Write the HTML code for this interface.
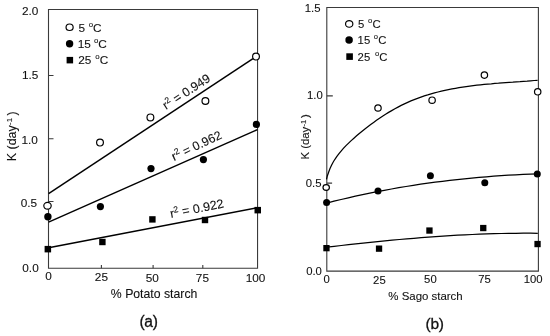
<!DOCTYPE html>
<html><head><meta charset="utf-8"><title>Figure</title>
<style>
html,body{margin:0;padding:0;background:#fff;}
svg{display:block;font-family:"Liberation Sans",Arial,sans-serif;fill:#111;}
text{stroke:#111;stroke-width:0.1px}
.ax{stroke:#3a3a3a;stroke-width:1.1;fill:none;shape-rendering:auto}
.ln{stroke:#000;stroke-width:1.45;fill:none;stroke-linejoin:round}
.lr{stroke-width:1.25}
.oc{stroke:#000;stroke-width:1.2;fill:#fff}
.fc{fill:#000}
.tl{font-size:11.8px}
.tr{font-size:11.3px}
</style></head><body>
<svg width="550" height="336" viewBox="0 0 550 336">
<rect width="550" height="336" fill="#fff"/>
<!-- LEFT PLOT -->
<g>
<path class="ax" d="M48.5 9.5H257.55V268.3H48.5Z"/>
<path class="ax" d="M48.5 75.5h5M48.5 138.8h5M48.5 201.5h5M101.4 268.3v-3.2M153.1 268.3v-3.2M202.8 268.3v-3.2"/>
<g class="tl">
<text x="22" y="14.8">2.0</text>
<text x="22" y="78.9">1.5</text>
<text x="21.5" y="143.6">1.0</text>
<text x="20.7" y="207.1">0.5</text>
<text x="22.3" y="272.1">0.0</text>
<text x="48.5" y="280.1" text-anchor="middle">0</text>
<text x="101.4" y="281" text-anchor="middle">25</text>
<text x="152.2" y="282.2" text-anchor="middle">50</text>
<text x="202.4" y="281.5" text-anchor="middle">75</text>
<text x="255.6" y="281.7" text-anchor="middle">100</text>
<text x="154.1" y="297.9" text-anchor="middle" font-size="12.25">% Potato starch</text>
<text transform="translate(16.4 161.3) rotate(-90) scale(1.04 1)" font-size="12">K (day</text>
<text transform="translate(11.6 125) rotate(-90)" font-size="8">-1</text>
<text transform="translate(16.3 115.6) rotate(-90)" font-size="12">)</text>
<text x="78.5" y="31.9">5 <tspan font-size="7.8" dy="-5.2" dx="0.4">o</tspan><tspan dy="5.2" dx="0">C</tspan></text>
<text x="77.8" y="47.9">15 <tspan font-size="7.8" dy="-5.2" dx="-0.3">o</tspan><tspan dy="5.2" dx="0">C</tspan></text>
<text x="78.2" y="63.8">25 <tspan font-size="7.8" dy="-5.2" dx="0.6">o</tspan><tspan dy="5.2" dx="0.1">C</tspan></text>
<text transform="translate(166.1 110) rotate(-33.2)" font-size="12.4">r<tspan font-size="8.6" dy="-4.6">2</tspan><tspan dy="4.6"> = 0.949</tspan></text>
<text transform="translate(174.1 160.9) rotate(-25.3)" font-size="12.3">r<tspan font-size="8.6" dy="-4.6">2</tspan><tspan dy="4.6"> = 0.962</tspan></text>
<text transform="translate(170.9 218) rotate(-11.2)" font-size="12.5">r<tspan font-size="8.6" dy="-4.6">2</tspan><tspan dy="4.6"> = 0.922</tspan></text>
</g>
<text x="148.5" y="327.1" text-anchor="middle" font-size="15.6" letter-spacing="-0.3" style="stroke-width:0.3px">(a)</text>
<!-- lines -->
<path class="ln" d="M48.6 193.6L253 58.6"/>
<path class="ln" d="M48.6 222.1L257.4 129.6"/>
<path class="ln" d="M48.6 247.8L257.4 207.7"/>
<!-- legend markers -->
<ellipse class="oc" cx="69.6" cy="27.25" rx="3.55" ry="3.25"/>
<circle class="fc" cx="69.6" cy="43.7" r="3.7"/>
<rect class="fc" x="66.6" y="56.9" width="6.5" height="6.5"/>
<!-- open circles -->
<ellipse class="oc" cx="47.5" cy="205.8" rx="3.7" ry="3.4"/>
<circle class="oc" cx="100" cy="142.6" r="3.4"/>
<circle class="oc" cx="150.4" cy="117.4" r="3.4"/>
<circle class="oc" cx="205.4" cy="101" r="3.4"/>
<circle class="oc" cx="256" cy="56.6" r="3.4"/>
<!-- filled circles -->
<circle class="fc" cx="47.9" cy="216.7" r="3.7"/>
<circle class="fc" cx="100.4" cy="206.6" r="3.6"/>
<circle class="fc" cx="151" cy="168.6" r="3.6"/>
<circle class="fc" cx="203.4" cy="159.6" r="3.6"/>
<circle class="fc" cx="256.4" cy="124.4" r="3.6"/>
<!-- squares -->
<rect class="fc" x="44.6" y="245.9" width="6.5" height="6.5"/>
<rect class="fc" x="99.2" y="238.8" width="6.4" height="6.4"/>
<rect class="fc" x="149.2" y="216.2" width="6.4" height="6.4"/>
<rect class="fc" x="201.8" y="216.8" width="6.4" height="6.4"/>
<rect class="fc" x="254.5" y="206.9" width="6.5" height="6.5"/>
</g>
<!-- RIGHT PLOT -->
<g>
<path class="ax" d="M326.8 7.45H538.4V271.1H326.8Z"/>
<path class="ax" d="M326.8 95.9h6M326.8 183.1h5.3"/>
<g class="tr">
<text x="320.5" y="12.2" text-anchor="end">1.5</text>
<text x="322.7" y="99" text-anchor="end">1.0</text>
<text x="321.5" y="187.1" text-anchor="end">0.5</text>
<text x="321.9" y="274.7" text-anchor="end">0.0</text>
<text x="326.7" y="283.3" text-anchor="middle">0</text>
<text x="379.4" y="283.6" text-anchor="middle">25</text>
<text x="430.4" y="282.6" text-anchor="middle">50</text>
<text x="484.6" y="282.8" text-anchor="middle">75</text>
<text x="533.2" y="283.3" text-anchor="middle">100</text>
<text x="425.5" y="300.45" text-anchor="middle" font-size="11.45">% Sago starch</text>
<text transform="translate(309.2 159.6) rotate(-90) scale(0.99 1)" font-size="11.5">K (day</text>
<text transform="translate(305.6 126.5) rotate(-90)" font-size="7.6">-1</text>
<text transform="translate(309.4 118.1) rotate(-90)" font-size="11.5">)</text>
<text x="358.1" y="27.9">5 <tspan font-size="7.6" dy="-5.1" dx="0.5">o</tspan><tspan dy="5.1" dx="0.3">C</tspan></text>
<text x="357.6" y="44">15 <tspan font-size="7.6" dy="-5.1" dx="0.5">o</tspan><tspan dy="5.1" dx="0.3">C</tspan></text>
<text x="357.6" y="60.6">25 <tspan font-size="7.6" dy="-5.1" dx="1.6">o</tspan><tspan dy="5.1" dx="0.2">C</tspan></text>
</g>
<text x="434.6" y="328.6" text-anchor="middle" font-size="15.5" letter-spacing="-0.3" style="stroke-width:0.3px">(b)</text>
<!-- curves -->
<path class="ln lr" d="M326.5 179.4 L327.4 175.7 L328.6 172.2 L329.9 168.8 L331.4 165.5 L333.1 162.3 L334.9 159.3 L336.9 156.4 L339.0 153.6 L341.3 150.8 L343.6 148.2 L346.0 145.6 L348.6 143.1 L351.2 140.6 L353.9 138.2 L356.6 135.8 L359.3 133.5 L362.1 131.2 L364.9 128.9 L367.8 126.7 L370.7 124.5 L373.6 122.4 L376.5 120.3 L379.5 118.2 L382.5 116.2 L385.6 114.3 L388.6 112.4 L391.7 110.6 L394.9 108.8 L398.0 107.1 L401.2 105.4 L404.4 103.9 L407.7 102.4 L410.9 100.9 L414.2 99.6 L417.5 98.3 L420.9 97.1 L424.3 95.9 L427.7 94.9 L431.1 93.8 L434.5 92.9 L438.0 92.0 L441.4 91.1 L444.9 90.3 L448.4 89.6 L452.0 88.9 L455.5 88.3 L459.0 87.7 L462.6 87.1 L466.2 86.6 L469.7 86.1 L473.3 85.6 L476.9 85.2 L480.5 84.8 L484.1 84.4 L487.7 84.1 L491.3 83.8 L494.9 83.4 L498.5 83.2 L502.1 82.9 L505.7 82.6 L509.2 82.3 L512.8 82.1 L516.4 81.8 L520.0 81.6 L523.5 81.3 L527.1 81.1 L530.6 80.8 L534.1 80.5 L537.6 80.3"/>
<path class="ln lr" d="M326.8 203.1 L334.0 201.2 L341.1 199.5 L348.3 197.8 L355.4 196.2 L362.6 194.6 L369.8 193.1 L377.1 191.7 L384.3 190.3 L391.5 189.0 L398.8 187.7 L406.0 186.5 L413.3 185.3 L420.6 184.2 L427.9 183.2 L435.2 182.2 L442.4 181.3 L449.8 180.4 L457.1 179.6 L464.4 178.8 L471.7 178.1 L479.0 177.4 L486.4 176.8 L493.7 176.2 L501.1 175.7 L508.4 175.2 L515.7 174.8 L523.1 174.4 L530.4 174.1 L537.8 173.9"/>
<path class="ln lr" d="M326.8 247.1 L334.1 246.3 L341.3 245.5 L348.6 244.6 L355.8 243.8 L363.1 243.1 L370.3 242.3 L377.6 241.6 L384.9 240.9 L392.1 240.2 L399.4 239.5 L406.7 238.9 L413.9 238.3 L421.2 237.7 L428.5 237.1 L435.7 236.6 L443.0 236.1 L450.3 235.7 L457.6 235.2 L464.9 234.8 L472.2 234.5 L479.4 234.2 L486.7 233.9 L494.0 233.7 L501.3 233.5 L508.6 233.4 L515.9 233.3 L523.2 233.2 L530.5 233.2 L537.8 233.3"/>
<!-- legend markers -->
<ellipse class="oc" cx="349.2" cy="23.9" rx="3.65" ry="3.35"/>
<circle class="fc" cx="349.1" cy="39.9" r="3.75"/>
<rect class="fc" x="346.3" y="53.3" width="6.6" height="6.6"/>
<!-- open -->
<ellipse class="oc" cx="326.2" cy="187.5" rx="3.2" ry="2.8"/>
<circle class="oc" cx="378" cy="108" r="3.2"/>
<circle class="oc" cx="432.1" cy="100.2" r="3.2"/>
<circle class="oc" cx="484.4" cy="75.1" r="3.2"/>
<circle class="oc" cx="537.7" cy="91.8" r="3.2"/>
<!-- filled -->
<circle class="fc" cx="326.6" cy="202.6" r="3.5"/>
<circle class="fc" cx="378" cy="191" r="3.5"/>
<circle class="fc" cx="430.4" cy="175.7" r="3.5"/>
<circle class="fc" cx="484.8" cy="182.8" r="3.5"/>
<circle class="fc" cx="537.3" cy="174" r="3.5"/>
<!-- squares -->
<rect class="fc" x="323.3" y="245" width="6.3" height="6.3"/>
<rect class="fc" x="375.9" y="245.5" width="6.3" height="6.3"/>
<rect class="fc" x="426.3" y="227.4" width="6.3" height="6.3"/>
<rect class="fc" x="480.1" y="224.9" width="6.3" height="6.3"/>
<rect class="fc" x="534.4" y="240.9" width="6.3" height="6.3"/>
</g>
</svg>
</body></html>
